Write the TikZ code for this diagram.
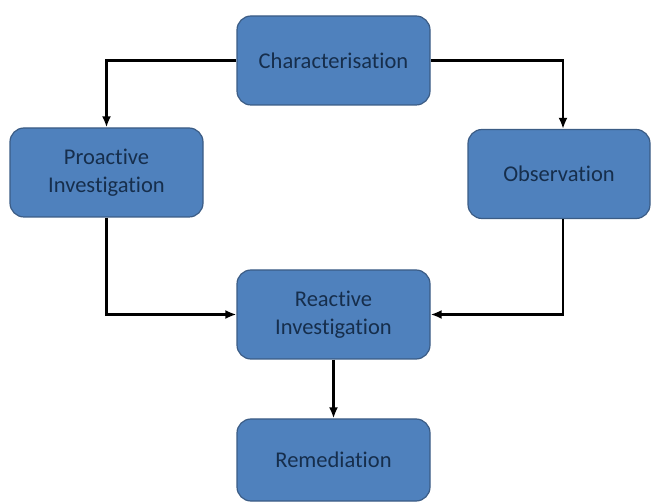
\documentclass[tikz,border=0pt]{standalone}
\usepackage{fontspec}
\setmainfont[Ligatures=NoCommon]{Carlito}
\usetikzlibrary{arrows, arrows.meta, positioning, calc}
\definecolor{boxfill}{HTML}{4F81BD}
\definecolor{boxline}{HTML}{3B5C85}
\definecolor{boxtext}{HTML}{162E4C}

\begin{document}
\begin{tikzpicture}[x=1pt,y=-1pt,
  box/.style={draw=boxline, fill=boxfill, line width=1.2pt, rounded corners=14pt,
    text=boxtext, align=center, inner sep=0pt, minimum width=193pt, minimum height=89pt,
    font=\fontsize{22.5}{28}\selectfont},
  link/.style={-{Latex[length=11pt,width=9pt]}, line width=2.6pt}]

\useasboundingbox (0,0) rectangle (656,502);

\node [box] (char) at (333.5,60.5) {Characterisation};
\node [box] (pro) at (106.5,172.5) {Proactive\\Investigation};
\node [box, minimum width=182pt] (obs) at (559,174) {Observation};
\node [box] (rea) at (333.5,314.5) {Reactive\\Investigation};
\node [box, minimum height=82pt] (rem) at (333.5,460) {Remediation};

\draw [link] (char.west) -| (pro.north);
\draw [link] (char.east) -| ($(obs.north)+(4,0)$);
\draw [link] (pro.south) |- (rea.west);
\draw [link] ($(obs.south)+(4,0)$) |- (rea.east);
\draw [link] (rea) -- (rem);
\end{tikzpicture}
\end{document}
